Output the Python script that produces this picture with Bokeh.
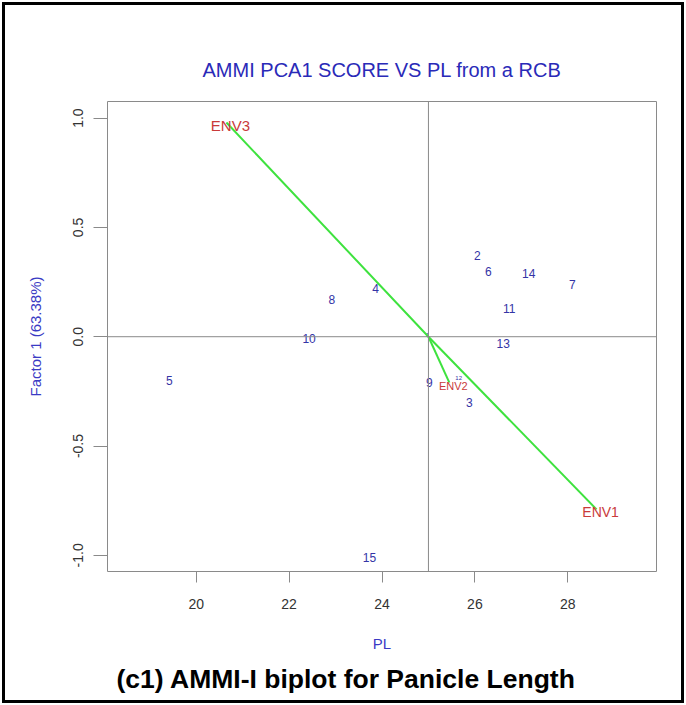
from bokeh.plotting import figure
from bokeh.models import (Span, FixedTicker, PrintfTickFormatter,
                          ColumnDataSource, Range1d, Title)
from bokeh.core.properties import value
from bokeh.embed import file_html
from bokeh.resources import INLINE

# ---------------- data ----------------
genotypes = ["1", "2", "3", "4", "5", "6", "7", "8", "9", "10", "11", "12", "13", "14", "15"]
gen_pl = [24.98, 26.05, 25.88, 23.86, 19.42, 26.29, 28.10, 22.92, 25.02, 22.43, 26.74, 25.65, 26.61, 27.16, 23.73]
gen_pc1 = [0.01, 0.37, -0.30, 0.22, -0.20, 0.30, 0.24, 0.17, -0.21, -0.01, 0.13, -0.19, -0.03, 0.29, -1.01]

envs = ["ENV1", "ENV2", "ENV3"]
env_pl = [28.62, 25.45, 20.65]
env_pc1 = [-0.79, -0.21, 0.98]

grand_mean = 25.0

x_ticks = [20, 22, 24, 26, 28]
y_ticks = [-1.0, -0.5, 0.0, 0.5, 1.0]

title_text = "AMMI PCA1 SCORE VS PL from a RCB"
x_label = "PL"
y_label = "Factor 1 (63.38%)"
caption_text = "(c1) AMMI-I biplot for Panicle Length"

# ---------------- styles ----------------
FONT = "Liberation Sans"
BLUE_TITLE = "#2a2ab8"
BLUE_AXIS = "#3a3ac4"
BLUE_PTS = "#3434a6"
RED_ENV = "#c93a3a"
GREEN = "#3ee23e"
GRAY = "#8a8a8a"

small_gen = {"1", "12"}
gen_sizes = ["6px" if g in small_gen else "12px" for g in genotypes]
env_size_map = {"ENV1": "14px", "ENV2": "11px", "ENV3": "15px"}
env_sizes = [env_size_map[e] for e in envs]

gen_src = ColumnDataSource(dict(x=gen_pl, y=gen_pc1, label=genotypes, size=gen_sizes))
env_src = ColumnDataSource(dict(x=env_pl, y=env_pc1, label=envs, size=env_sizes,
                                x0=[grand_mean] * len(envs), y0=[0.0] * len(envs)))

W, H = 686, 705
p = figure(width=W, height=H, output_backend="svg", toolbar_location=None,
           x_range=Range1d(18.09, 29.91), y_range=Range1d(-1.074, 1.076),
           min_border_left=107, min_border_right=30, min_border_top=101, min_border_bottom=134)
p.grid.visible = False
p.outline_line_color = GRAY
p.outline_line_width = 1
p.background_fill_color = "white"
p.border_fill_color = None
p.styles = {"background-color": "white", "outline": "3px solid black", "outline-offset": "-5px"}

# title
p.title.text = title_text
p.title.align = "center"
p.title.text_font = FONT
p.title.text_font_size = "20px"
p.title.text_font_style = "normal"
p.title.text_color = BLUE_TITLE
p.title.standoff = 41

# axes
for ax in (p.xaxis[0], p.yaxis[0]):
    ax.axis_line_color = None
    ax.major_tick_line_color = GRAY
    ax.minor_tick_line_color = None
    ax.major_tick_in = 0
    ax.major_label_text_font = FONT
    ax.major_label_text_font_size = "14px"
    ax.major_label_text_color = "#333333"
    ax.axis_label_text_font = FONT
    ax.axis_label_text_font_size = "15px"
    ax.axis_label_text_font_style = "normal"
    ax.axis_label_text_color = BLUE_AXIS

p.xaxis.ticker = FixedTicker(ticks=x_ticks)
p.xaxis.formatter = PrintfTickFormatter(format="%d")
p.xaxis.major_tick_out = 11
p.xaxis.major_label_standoff = 16
p.xaxis.axis_label = x_label
p.xaxis.axis_label_standoff = 23

p.yaxis.ticker = FixedTicker(ticks=y_ticks)
p.yaxis.formatter = PrintfTickFormatter(format="%.1f")
p.yaxis.major_tick_out = 14
p.yaxis.major_label_orientation = "vertical"
p.yaxis.major_label_standoff = 10
p.yaxis.axis_label = y_label
p.yaxis.axis_label_standoff = 27

# reference lines
p.add_layout(Span(location=grand_mean, dimension="height", line_color=GRAY, line_width=1))
p.add_layout(Span(location=0.0, dimension="width", line_color=GRAY, line_width=1))

# genotype labels
p.text(x="x", y="y", text="label", source=gen_src, text_font=value(FONT),
       text_font_size="size", text_color=BLUE_PTS, text_align="center",
       text_baseline="middle")

# environment vectors
p.segment(x0="x0", y0="y0", x1="x", y1="y", source=env_src, line_color=GREEN, line_width=2)
p.text(x="x", y="y", text="label", source=env_src, text_font=value(FONT),
       text_font_size="size", text_color=RED_ENV, text_align="center",
       text_baseline="middle", x_offset=4, y_offset=3)

# caption below
cap = Title(text=caption_text, align="left", offset=9, text_font=FONT,
            text_font_size="26.5px", text_font_style="bold", text_color="black",
            standoff=14)
p.add_layout(cap, "below")

open("out.html", "w").write(file_html(p, INLINE))
